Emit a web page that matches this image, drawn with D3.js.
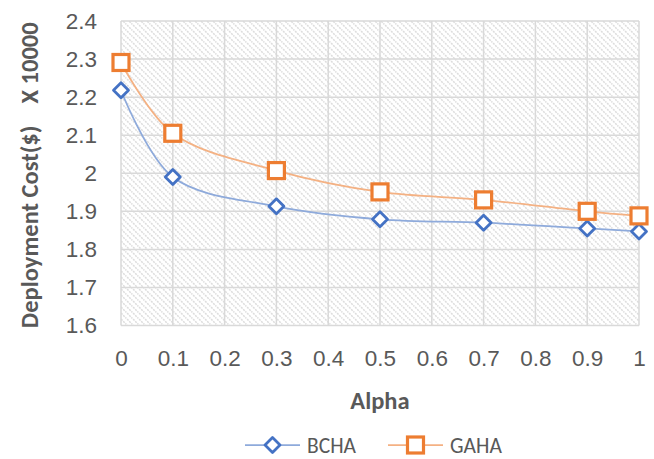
<!DOCTYPE html>
<html>
<head>
<meta charset="utf-8">
<script src="https://cdn.jsdelivr.net/npm/d3@7"></script>
<style>
  html, body { margin: 0; padding: 0; background: #fff; }
  svg { display: block; font-family: Carlito, Calibri, "Open Sans", sans-serif; }
</style>
</head>
<body>
<svg id="chart" width="654" height="459"></svg>
<script>
// Deployment cost (× 10000 $) against alpha for the two heuristics
const alphaValues = [0, 0.1, 0.3, 0.5, 0.7, 0.9, 1];
const bchaCost = [2.218, 1.990, 1.913, 1.879, 1.870, 1.855, 1.847];
const gahaCost = [2.291, 2.105, 2.007, 1.951, 1.930, 1.900, 1.888];
const xTicks = [0, 0.1, 0.2, 0.3, 0.4, 0.5, 0.6, 0.7, 0.8, 0.9, 1];
const yTicks = [1.6, 1.7, 1.8, 1.9, 2.0, 2.1, 2.2, 2.3, 2.4];
const seriesNames = ["BCHA", "GAHA"];

const svg = d3.select("#chart");
const plot = { left: 121, right: 639, top: 21, bottom: 325.5 };
const fontSize = 22.5;
const titleSize = 24.5;

const x = d3.scaleLinear().domain([0, 1]).range([plot.left, plot.right]);
const y = d3.scaleLinear().domain([1.6, 2.4]).range([plot.bottom, plot.top]);

// diagonal hatch fill for the plot area
const defs = svg.append("defs");
const pat = defs.append("pattern")
  .attr("id", "hatch")
  .attr("patternUnits", "userSpaceOnUse")
  .attr("width", 6).attr("height", 6);
pat.append("rect").attr("width", 6).attr("height", 6).attr("fill", "#ffffff");
pat.append("path")
  .attr("d", "M-1,-1 L7,7 M-1,5 L1,7 M5,-1 L7,1")
  .attr("stroke", "#dcdcdc")
  .attr("stroke-width", 1.5)
  .attr("stroke-dasharray", "2,1");

svg.append("rect")
  .attr("x", plot.left).attr("y", plot.top)
  .attr("width", plot.right - plot.left)
  .attr("height", plot.bottom - plot.top)
  .attr("fill", "url(#hatch)");

// gridlines
const grid = svg.append("g").attr("stroke", "#d9d9d9").attr("stroke-width", 1.5);
grid.selectAll("line.h").data(yTicks).join("line")
  .attr("class", "h")
  .attr("x1", plot.left).attr("x2", plot.right)
  .attr("y1", d => y(d)).attr("y2", d => y(d));
grid.selectAll("line.v").data(xTicks).join("line")
  .attr("class", "v")
  .attr("x1", d => x(d)).attr("x2", d => x(d))
  .attr("y1", plot.top).attr("y2", plot.bottom);

// axes (labels only)
const xAxis = d3.axisBottom(x).tickValues(xTicks).tickSize(0).tickPadding(0)
  .tickFormat(d => d3.format("~g")(d));
const gx = svg.append("g").attr("transform", `translate(0,${plot.bottom + 33})`).call(xAxis);
gx.select(".domain").remove();
gx.selectAll("text").attr("font-size", fontSize).attr("fill", "#595959").attr("dy", "0.32em");

const yAxis = d3.axisLeft(y).tickValues(yTicks).tickSize(0).tickPadding(0)
  .tickFormat(d => d3.format("~g")(d));
const gy = svg.append("g").attr("transform", `translate(${plot.left - 24},0)`).call(yAxis);
gy.select(".domain").remove();
gy.selectAll("text").attr("font-size", fontSize).attr("fill", "#595959");

// axis titles
svg.append("text")
  .attr("x", 380).attr("y", 400)
  .attr("text-anchor", "middle").attr("dy", "0.35em")
  .attr("font-size", titleSize).attr("font-weight", "bold").attr("fill", "#595959")
  .text("Alpha");

svg.append("text")
  .attr("transform", `translate(29,${(plot.top + plot.bottom) / 2 + 2}) rotate(-90)`)
  .attr("text-anchor", "middle").attr("dy", "0.35em")
  .attr("font-size", titleSize).attr("font-weight", "bold").attr("fill", "#595959")
  .attr("xml:space", "preserve")
  .text("Deployment Cost($)    X 10000");

// series
const series = [
  { name: seriesNames[0], values: bchaCost, line: "#8eaadb", mark: "#4472c4", shape: "diamond" },
  { name: seriesNames[1], values: gahaCost, line: "#f4b183", mark: "#ed7d31", shape: "square" }
];

const lineGen = d3.line()
  .x(d => x(d[0])).y(d => y(d[1]))
  .curve(d3.curveCatmullRom.alpha(0.5));

function drawMarker(g, shape, color) {
  if (shape === "diamond") {
    g.append("path").attr("d", "M0,-7.5 L7.5,0 L0,7.5 L-7.5,0 Z")
      .attr("fill", "#fff").attr("stroke", color).attr("stroke-width", 2.8)
      .attr("stroke-linejoin", "round");
  } else {
    g.append("rect").attr("x", -8).attr("y", -8).attr("width", 16).attr("height", 16)
      .attr("fill", "#fff").attr("stroke", color).attr("stroke-width", 3.2);
  }
}

series.forEach(s => {
  const pts = alphaValues.map((a, i) => [a, s.values[i]]);
  svg.append("path").datum(pts)
    .attr("d", lineGen).attr("fill", "none")
    .attr("stroke", s.line).attr("stroke-width", 1.75);
  svg.append("g").selectAll("g").data(pts).join("g")
    .attr("transform", d => `translate(${x(d[0])},${y(d[1])})`)
    .each(function () { drawMarker(d3.select(this), s.shape, s.mark); });
});

// legend
const legend = svg.append("g").attr("transform", "translate(0,445)");
const legendX = [245, 388];
series.forEach((s, i) => {
  const g = legend.append("g").attr("transform", `translate(${legendX[i]},0)`);
  g.append("line").attr("x1", 0).attr("x2", 55).attr("stroke", s.line).attr("stroke-width", 1.75);
  const m = g.append("g").attr("transform", "translate(27.5,0)");
  drawMarker(m, s.shape, s.mark);
  g.append("text").attr("x", 62).attr("dy", "0.35em")
    .attr("font-size", 21.5).attr("fill", "#595959").text(s.name);
});
</script>
</body>
</html>
